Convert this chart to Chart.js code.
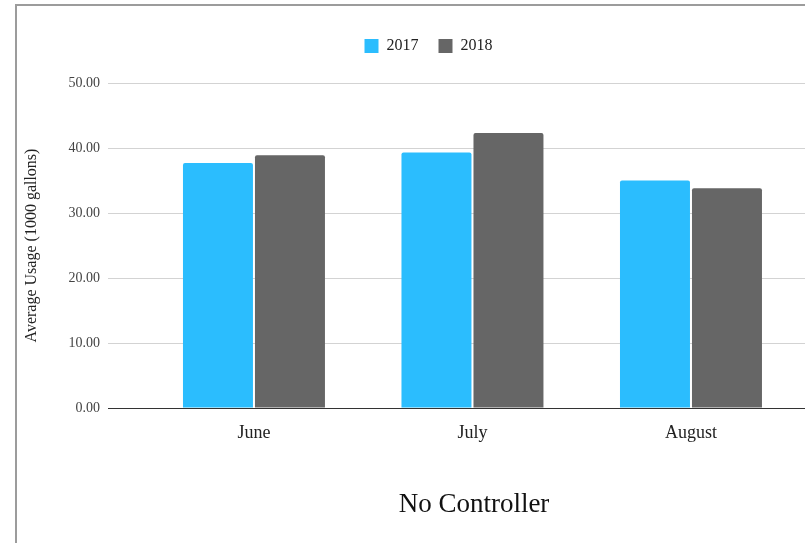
<!DOCTYPE html>
<html>
<head>
<meta charset="utf-8">
<script src="https://cdn.jsdelivr.net/npm/chart.js@4"></script>
<style>
  html, body { margin: 0; padding: 0; background: #ffffff; overflow: hidden; width: 805px; height: 543px; }
  #frame { position: absolute; left: 15px; top: 4px; width: 830px; height: 539px; overflow: hidden;
           border-top: 2px solid #9c9c9c; border-left: 2px solid #9c9c9c; }
  canvas { display: block; }
</style>
</head>
<body>
<div id="frame"><canvas id="c" width="823" height="537"></canvas></div>
<script>
const months = ['June', 'July', 'August'];
const seriesNames = ['2017', '2018'];
const usage2017 = [37.7, 39.3, 35.0];
const usage2018 = [38.9, 42.3, 33.8];
const yTickMin = 0, yTickMax = 50, yTickStep = 10;

const serif = "'Liberation Serif', 'DejaVu Serif', serif";

new Chart(document.getElementById('c'), {
  type: 'bar',
  data: {
    datasets: [
      { label: seriesNames[0], data: usage2017.map((v, i) => ({ x: i, y: v })),
        backgroundColor: '#2BBDFE', borderRadius: { topLeft: 2, topRight: 2 }, borderSkipped: 'bottom' },
      { label: seriesNames[1], data: usage2018.map((v, i) => ({ x: i, y: v })),
        backgroundColor: '#666666', borderRadius: { topLeft: 2, topRight: 2 }, borderSkipped: 'bottom' }
    ]
  },
  options: {
    responsive: false,
    animation: false,
    categoryPercentage: 0.659,
    barPercentage: 0.972,
    layout: { padding: { top: 12, bottom: 18, left: 0, right: 0 } },
    plugins: {
      tooltip: { enabled: false },
      legend: {
        position: 'top',
        labels: { boxWidth: 14, boxHeight: 14, padding: 20, color: '#222',
                  font: { family: serif, size: 16 } }
      },
      title: { display: true, text: '', position: 'top', weight: 500,
               padding: { top: 4, bottom: 3 }, font: { size: 10 } }
    },
    scales: {
      x: {
        type: 'linear',
        offset: false,
        min: -0.668,
        max: 2.682,
        grid: { display: false, drawTicks: false, offset: false },
        border: { display: true, color: '#333333', width: 1 },
        ticks: {
          stepSize: 1,
          includeBounds: false,
          padding: 14,
          color: '#222',
          font: { family: serif, size: 18 },
          callback: (v) => (Number.isInteger(v) && months[v] !== undefined) ? months[v] : ''
        },
        title: { display: true, text: 'No Controller', color: '#111',
                 font: { family: serif, size: 27 }, padding: { top: 31, bottom: 4 } }
      },
      y: {
        min: yTickMin,
        max: yTickMax,
        afterFit: (scale) => { scale.width = 91; },
        grid: { color: (ctx) => (ctx.tick && ctx.tick.value === 0) ? '#333333' : '#d3d3d3',
                drawTicks: false, lineWidth: 1 },
        border: { display: false },
        ticks: { stepSize: yTickStep, padding: 8, color: '#444',
                 font: { family: serif, size: 14 },
                 callback: (v) => Number(v).toFixed(2) },
        title: { display: true, text: 'Average Usage (1000 gallons)', color: '#222',
                 font: { family: serif, size: 16 }, padding: { top: 5, bottom: 4 } }
      }
    }
  }
});
</script>
</body>
</html>
